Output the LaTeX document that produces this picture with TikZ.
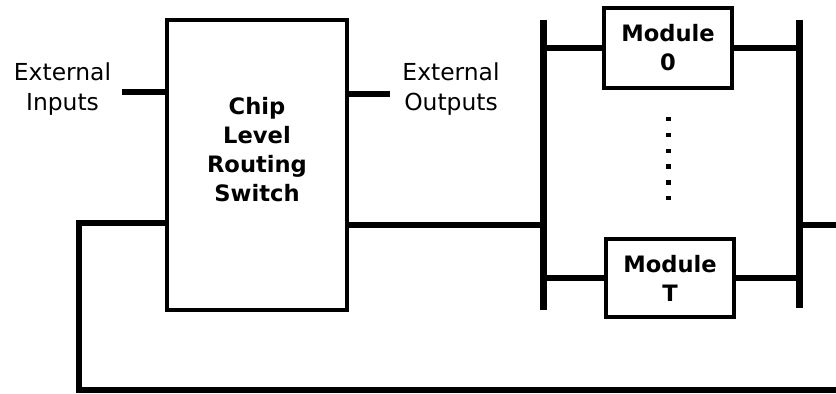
\documentclass[tikz,border=0pt]{standalone}
\usepackage{fontspec}
\setmainfont{DejaVu Sans}
\usetikzlibrary{positioning}

\begin{document}
\begin{tikzpicture}[x=0.5pt,y=-0.5pt,
  wire/.style={line width=3pt},
  bus/.style={line width=3.5pt},
  box/.style={draw,line width=1.9pt,align=center,inner sep=0pt,
    font=\bfseries\fontsize{11.3}{14.5}\selectfont},
  lbl/.style={align=center,inner sep=0pt,font=\fontsize{11.7}{15.2}\selectfont}]
\clip (0,0) rectangle (836,394);
\useasboundingbox (0,0) rectangle (836,394);
% chip and its two labels
\node[box,minimum width=90pt,minimum height=145pt] (chip) at (257,165) {};
\node[box,draw=none] (chiplbl) at (257,150) {Chip\\Level\\Routing\\Switch};
\node[lbl] (extin) at (62.5,89) {External\\Inputs};
\node[lbl] (extout) at (451,89) {External\\Outputs};
\coordinate (inA) at (122,92);
\coordinate (outA) at (390,94);
\draw[wire] (inA) -- (inA -| chip.west);
\draw[wire] (outA -| chip.east) -- (outA);
% module bank between two buses
\coordinate (lbtop) at (543,20);
\coordinate (lbbot) at (543,310);
\coordinate (rbtop) at (799,20);
\coordinate (rbbot) at (799,308);
\draw[bus] (lbtop) -- (lbbot);
\draw[bus] (rbtop) -- (rbbot);
\node[box,minimum width=64pt,minimum height=40pt] (mod0) at (668,48) {Module\\0};
\node[box,minimum width=64pt,minimum height=39pt] (modT) at (670,278) {Module\\T};
\draw[wire] (mod0.west -| lbtop) -- (mod0.west);
\draw[wire] (mod0.east) -- (mod0.east -| rbtop);
\draw[wire] (modT.west -| lbtop) -- (modT.west);
\draw[wire] (modT.east) -- (modT.east -| rbtop);
\foreach \i in {0,...,5}
  \fill (666,117+\i*15.8) rectangle ++(4.5,4.5);
% chip to bank, and the loop back
\coordinate (fb) at (79,390);
\draw[wire] (chip.east |- 0,225) -- (lbtop |- 0,225);
\draw[wire,line width=3.3pt] (chip.west |- 0,223) -| (fb) -- (850,390) |- (rbtop |- 0,225);
\end{tikzpicture}
\end{document}
